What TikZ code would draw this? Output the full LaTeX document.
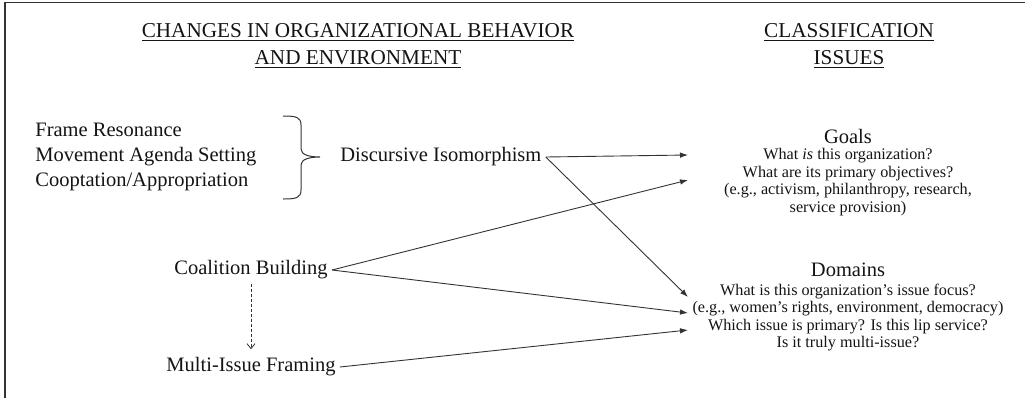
\documentclass[tikz,border=0pt]{standalone}
\usepackage{fontspec}
\setmainfont{Liberation Serif}
\usetikzlibrary{arrows.meta, positioning}

\tikzset{
  headtitle/.style={align=center, font=\fontsize{10.6}{13.5}\selectfont, inner sep=0pt, text=black!92},
  itemtext/.style={font=\fontsize{10.25}{12.5}\selectfont, inner sep=2pt, text=black!92},
  heading/.style={font=\fontsize{10.25}{12}\selectfont, inner sep=0pt, text=black!92},
  smalltext/.style={align=center, font=\fontsize{8.1}{8.75}\selectfont, inner sep=0pt, text=black!92},
  link/.style={line width=0.45pt, black!80, -{Latex[length=4pt, width=2.8pt]}},
}

\begin{document}
\begin{tikzpicture}[x=0.5pt, y=-0.5pt]
  \useasboundingbox (0,0) rectangle (1025,398);
  % frame
  \draw[line width=0.7pt, black!80] (5,398) -- (5,2.5) -- (1025,2.5);

  % column titles
  \node[headtitle] (lefthead) at (358,46) {\underline{CHANGES IN ORGANIZATIONAL BEHAVIOR}\\\underline{AND ENVIRONMENT}};
  \node[headtitle] (righthead) at (849,46) {\underline{CLASSIFICATION}\\\underline{ISSUES}};

  % left side
  \node[itemtext, anchor=west, align=left] (mechs) at (31,157) {Frame Resonance\\Movement Agenda Setting\\Cooptation/Appropriation};
  \draw[black!80, line width=0.5pt] (283,116) .. controls (296,116) and (301,117) .. (301,125) -- (301,149)
    .. controls (301,155) and (310,157) .. (320,157) .. controls (310,157) and (301,159) .. (301,165) -- (301,190)
    .. controls (301,198) and (296,199) .. (283,199);
  \node[itemtext, anchor=west] (disc) at (336,157) {Discursive Isomorphism};
  \node[itemtext] (coal) at (251,270) {Coalition Building};
  \node[itemtext] (multi) at (251,367) {Multi-Issue Framing};

  % right side
  \node[heading] (goals) at (848,136) {Goals};
  \node[smalltext] (goalsq) at (848,182) {What \textit{is} this organization?\\What are its primary objectives?\\(e.g., activism, philanthropy, research,\\service provision)};
  \node[heading] (domains) at (848,270) {Domains};
  \node[smalltext] (domainsq) at (848,317.5) {What is this organization's issue focus?\\(e.g., women's rights, environment, democracy)\\Which issue is primary? Is this lip service?\\Is it truly multi-issue?};

  % arrow ends
  \coordinate (g1) at (688,155);
  \coordinate (g2) at (688,180);
  \coordinate (d1) at (688,297);
  \coordinate (d2) at (688,313);
  \coordinate (d3) at (688,330);

  \draw[link] (disc.east) -- (g1);
  \draw[link] (disc.east) -- (d1);
  \draw[link] (coal.east) -- (g2);
  \draw[link] (coal.east) -- (d2);
  \draw[link] (multi.east) -- (d3);
  \draw[black!80, line width=0.4pt, dash pattern=on 1.5pt off 1pt, -{Straight Barb[length=2.5pt, width=4pt]}] (coal.south) -- ([yshift=2pt]multi.north);
\end{tikzpicture}
\end{document}
